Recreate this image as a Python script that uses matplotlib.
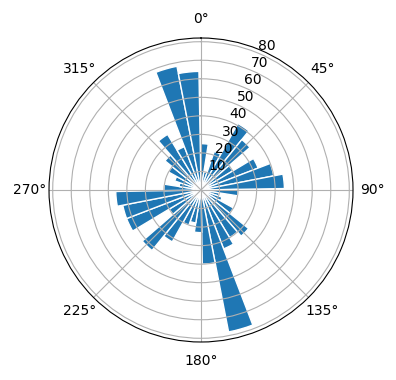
import numpy as np
import matplotlib
matplotlib.use("Agg")
import matplotlib.pyplot as plt

theta_deg = [4, 14, 24, 34, 44, 54, 64, 74, 84, 94, 104, 114, 124, 134, 144, 154, 164, 174,
             184, 194, 204, 214, 224, 234, 244, 254, 264, 274, 284, 294, 304, 314, 324, 334, 344, 354]
radii = [25, 10, 22, 41, 35, 20, 33, 40, 45, 20, 10, 12, 20, 33, 30, 34, 78, 40,
         23, 18, 20, 32, 42, 20, 43, 43, 46, 20, 12, 15, 20, 25, 35, 25, 68, 64]
bar_width_deg = 10

fig = plt.figure(figsize=(3.96, 3.8), dpi=100)
ax = fig.add_axes([0.1236, 0.1, 0.768, 0.8], projection='polar')
ax.set_theta_zero_location('N')
ax.set_theta_direction(-1)
ax.bar(np.deg2rad(theta_deg), radii, width=np.deg2rad(bar_width_deg),
       color='#1f77b4', edgecolor='white', linewidth=1)
ax.set_yticks([10, 20, 30, 40, 50, 60, 70, 80])
ax.set_ylim(0, 82)
ax.set_rlabel_position(22.5)
fig.savefig('out.png', dpi=100)
